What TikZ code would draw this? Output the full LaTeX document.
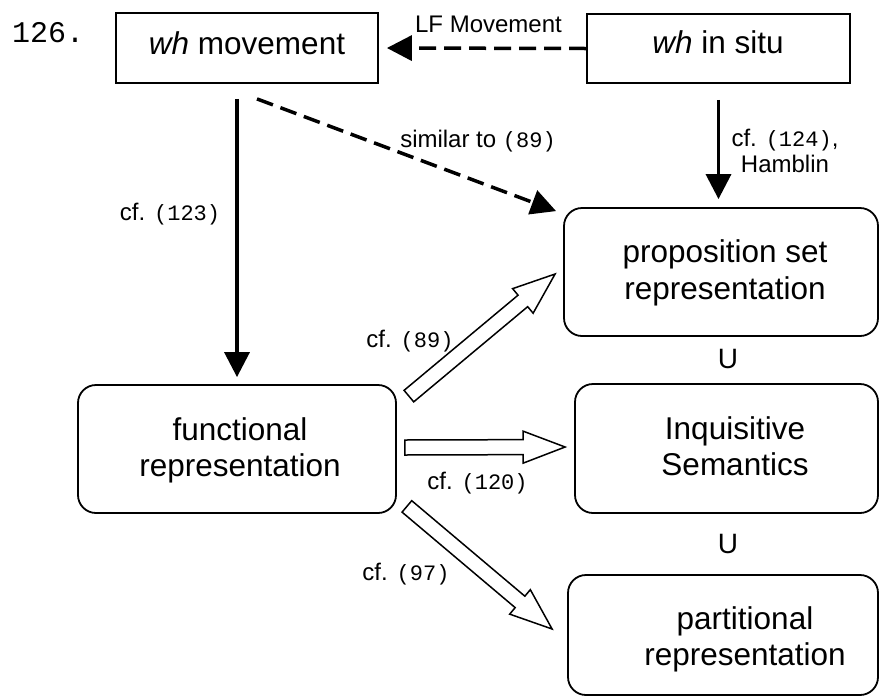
\documentclass[tikz,border=0pt]{standalone}
\usepackage{fontspec}
\setmainfont{Liberation Sans}
\newfontfamily\monof{Liberation Mono}
\usetikzlibrary{arrows.meta,calc}
\newcommand\mn[1]{{\monof\fontsize{22}{26}\selectfont #1}}
\newcommand\blkarrow[2]{%
 \draw[blk] ($(#1)!7.5pt!90:(#2)$) -- ($(#2)!42pt!(#1)!7.5pt!-90:(#1)$) -- ($(#2)!42pt!(#1)!16pt!-90:(#1)$) -- (#2) -- ($(#2)!42pt!(#1)!16pt!90:(#1)$) -- ($(#2)!42pt!(#1)!7.5pt!90:(#1)$) -- ($(#1)!7.5pt!-90:(#2)$) -- cycle;}
\begin{document}
\begin{tikzpicture}[x=1pt,y=-1pt,
 sqbox/.style={draw,line width=1.8pt,inner sep=0pt},
 rbox/.style={draw,line width=1.8pt,rounded corners=18pt,inner sep=0pt},
 boxtext/.style={font=\fontsize{31.5}{36.5}\selectfont,align=center,inner sep=0pt},
 lbl/.style={font=\fontsize{24}{26}\selectfont,inner sep=0pt,anchor=base},
 conn/.style={line width=3.5pt,-{Triangle[length=25pt,width=25pt]}},
 dconn/.style={conn,dash pattern=on 17pt off 8pt},
 blk/.style={draw,line width=1.5pt,fill=white,line join=miter}]
\useasboundingbox (0,0) rectangle (879,697);
% boxes
\node[sqbox,minimum width=262pt,minimum height=70pt] (whmov) at (247,48) {};
\node[sqbox,minimum width=263pt,minimum height=69pt] (whsitu) at (718.5,48.5) {};
\node[rbox,minimum width=318pt,minimum height=128pt] (func) at (237,449) {};
\node[rbox,minimum width=314pt,minimum height=128pt] (prop) at (721,272) {};
\node[rbox,minimum width=303pt,minimum height=129pt] (inq) at (726.5,448.5) {};
\node[rbox,minimum width=310pt,minimum height=120pt] (part) at (723,635) {};
% box texts
\node[boxtext,anchor=base] (whmovt) at (247,54) {\textit{wh} movement};
\node[boxtext,anchor=base] (whsitut) at (718,53) {\textit{wh} in situ};
\node[boxtext] (funct) at (240,450.5) {functional\\representation};
\node[boxtext] (propt) at (725,273) {proposition set\\representation};
\node[boxtext] (inqt) at (735,446) {Inquisitive\\Semantics};
\node[boxtext] (partt) at (745,639.5) {partitional\\representation};
% labels
\node[anchor=base west,inner sep=0pt,font=\monof\fontsize{30}{32}\selectfont] (num) at (12,42) {126.};
\node[lbl] (lf) at (488.5,32) {LF Movement};
\node[lbl] (sim) at (478,147) {similar to \mn{(89)}};
\node[lbl,align=center,anchor=center] (ham) at (785,151) {cf. \mn{(124)},\\Hamblin};
\node[lbl] (c123) at (170,220) {cf. \mn{(123)}};
\node[lbl] (c89) at (410,347) {cf. \mn{(89)}};
\node[lbl] (c120) at (477.5,489) {cf. \mn{(120)}};
\node[lbl] (c97) at (406,580) {cf. \mn{(97)}};
\node[lbl,font=\fontsize{28}{30}\selectfont] (u1) at (728,368) {U};
\node[lbl,font=\fontsize{28}{30}\selectfont] (u2) at (728,553) {U};
% connectors
\draw[dconn] (whsitu.west) -- ($(whmov.east)+(8,0)$);
\draw[conn] ($(func.north |- whmov.south)+(0,15)$) -- ($(func.north)+(0,-7)$);
\draw[conn] ($(whsitu.south)+(0,16)$) -- ($(whsitu.south |- prop.north)+(0,-8)$);
\draw[dconn] ($(whmov.south)+(10,15)$) -- ($(prop.north west)+(-7,4)$);
% block arrows
\coordinate (a1) at ($(func.north east)+(12,12)$);
\coordinate (b1) at ($(prop.west)+(-8,2)$);
\coordinate (a2) at ($(func.east)+(8,-1.5)$);
\coordinate (b2) at ($(inq.west)+(-9,-1.5)$);
\coordinate (a3) at ($(func.south east)+(10,-7.5)$);
\coordinate (b3) at ($(part.west)+(-15,-6)$);
\blkarrow{a1}{b1}
\blkarrow{a2}{b2}
\blkarrow{a3}{b3}
\end{tikzpicture}
\end{document}
